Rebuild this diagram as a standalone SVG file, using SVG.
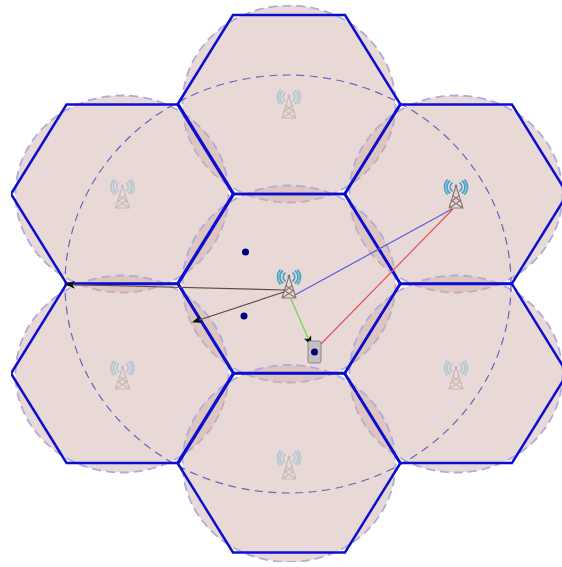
<svg xmlns="http://www.w3.org/2000/svg" width="562" height="567" viewBox="0 0 562 567">
<style>
.cell{fill:#d0aea8;fill-opacity:.47;stroke:#adacdc;stroke-width:1.8;stroke-dasharray:9 5}
.hex{fill:none;stroke:#1010d0;stroke-width:2.5;stroke-linejoin:miter}
.ring{fill:none;stroke:#6a62c0;stroke-width:1.2;stroke-dasharray:8 5.500}
.dot{fill:#00007a}
.wave{fill:none;stroke:#4aa3c8;stroke-width:1.7}
.mast{fill:none;stroke:#8a7a76;stroke-width:1.2}
.faded{opacity:.33}
.link{fill:none;stroke-width:1.2}
</style>
<defs>
<filter id="soft" x="0" y="0" width="100%" height="100%"><feGaussianBlur stdDeviation="0.45"/></filter>
<marker id="arrow" viewBox="0 0 10 8" refX="9" refY="4" markerWidth="10" markerHeight="8" markerUnits="userSpaceOnUse" orient="auto"><path d="M0 0L10 4L0 8L2.500 4Z" fill="#111"/></marker>
<polygon id="h" points="-111.500,0 -56,-89.500 56,-89.500 111.500,0 56,89.500 -56,89.500"/>
<ellipse id="c" rx="106.500" ry="98.500"/>
<g id="tower">
<path class="wave" d="M-3.500 -12.500A5.500 5.500 0 0 0 -3.500 -3.500M-6 -14.500A8.500 8.500 0 0 0 -6 -1.500M-8.500 -15.500A11 11 0 0 0 -8.500 -0.500"/>
<path class="wave" d="M3.500 -12.500A5.500 5.500 0 0 1 3.500 -3.500M6 -14.500A8.500 8.500 0 0 1 6 -1.500M8.500 -15.500A11 11 0 0 1 8.500 -0.500"/>
<path class="mast" d="M0 -9L-7 13M0 -9L7 13M-7 13L4 6M7 13L-4 6M-4 6L2.500 1M4 6L-2.500 1M-7.500 13H7.500"/>
<circle cx="0" cy="-9" r="1.500" fill="#8a7a76"/>
</g>
</defs>
<rect width="562" height="567" fill="#fff"/>
<g filter="url(#soft)">
<g id="cell-top"><use href="#c" class="cell" x="289" y="104"/></g>
<g id="cell-upper-left"><use href="#c" class="cell" x="122" y="194"/></g>
<g id="cell-upper-right"><use href="#c" class="cell" x="456" y="194"/></g>
<g id="cell-center"><use href="#c" class="cell" x="289" y="284"/></g>
<g id="cell-lower-left"><use href="#c" class="cell" x="122" y="374"/></g>
<g id="cell-lower-right"><use href="#c" class="cell" x="456" y="374"/></g>
<g id="cell-bottom"><use href="#c" class="cell" x="289" y="463.500"/></g>
<ellipse id="coverage" class="ring" cx="288" cy="284" rx="223" ry="209"/>
<g id="hexagons">
<use href="#h" class="hex" x="289" y="104.500"/>
<use href="#h" class="hex" x="122.500" y="194"/>
<use href="#h" class="hex" x="456" y="194"/>
<use href="#h" class="hex" x="289" y="283.500"/>
<use href="#h" class="hex" x="122.500" y="373.500"/>
<use href="#h" class="hex" x="456" y="373.500"/>
<use href="#h" class="hex" x="289" y="463"/>
</g>
<g id="tower-top" class="faded"><use href="#tower" x="289" y="105"/></g>
<g id="tower-upper-left" class="faded"><use href="#tower" x="122.500" y="195"/></g>
<g id="tower-lower-left" class="faded"><use href="#tower" x="122.500" y="376"/></g>
<g id="tower-lower-right" class="faded"><use href="#tower" x="456" y="376"/></g>
<g id="tower-bottom" class="faded"><use href="#tower" x="289" y="466"/></g>
<g id="tower-upper-right"><use href="#tower" x="456" y="195"/></g>
<g id="tower-center"><use href="#tower" x="289" y="285"/></g>
<g id="connectors">
<path class="link" stroke="#5a5ae0" d="M295 295L452 209"/>
<path class="link" stroke="#ea5052" d="M320 345L453 209"/>
<path class="link" stroke="#63d94f" d="M291 299L311 345" marker-end="url(#arrow)"/>
<path class="link" stroke="#5e4b48" d="M285 290L66 284.500" marker-end="url(#arrow)"/>
<path class="link" stroke="#5e4b48" d="M284 292L193 322" marker-end="url(#arrow)"/>
</g>
<g id="phone">
<rect x="308" y="341" width="13" height="22" rx="2" fill="#c8c0c0" stroke="#8a8484" stroke-width="1"/>
<circle class="dot" cx="314.500" cy="352" r="3.500"/>
</g>
<g id="user-1"><circle class="dot" cx="245.500" cy="252" r="3.500"/></g>
<g id="user-2"><circle class="dot" cx="244" cy="316" r="3.500"/></g>
</g>
</svg>
